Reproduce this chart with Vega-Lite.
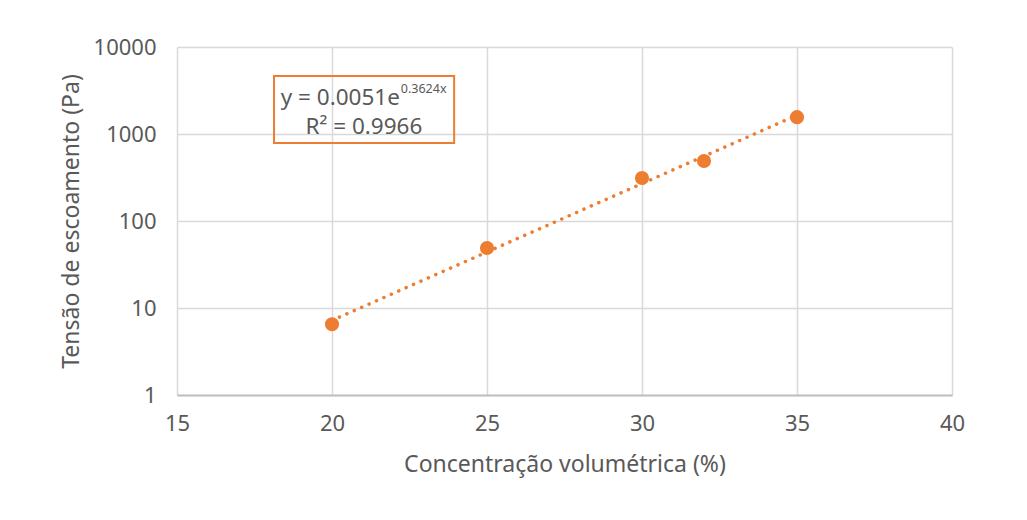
{
  "$schema": "https://vega.github.io/schema/vega-lite/v6.json",
  "autosize": {"type": "none"},
  "width": 775,
  "height": 348,
  "padding": {"left": 177, "top": 47, "right": 75, "bottom": 125},
  "background": "white",
  "config": {
    "view": {"stroke": null},
    "font": "Noto Sans",
    "axis": {
      "labelFont": "Noto Sans",
      "titleFont": "Noto Sans",
      "labelColor": "#595959",
      "titleColor": "#595959",
      "labelFontSize": 22,
      "titleFontSize": 23,
      "titleFontWeight": "normal",
      "gridColor": "#d9d9d9",
      "gridWidth": 1.5,
      "ticks": false
    }
  },
  "datasets": {
    "pts": [
      {"conc": 20, "tensao": 6.5},
      {"conc": 25, "tensao": 49},
      {"conc": 30, "tensao": 312},
      {"conc": 32, "tensao": 490},
      {"conc": 35, "tensao": 1560}
    ],
    "trend": [
      {"conc": 20, "tensao": 7.2},
      {"conc": 35, "tensao": 1645}
    ],
    "box": [{"x1": 18.13, "x2": 23.94, "y1": 4645, "y2": 788}],
    "eqmain": [{"x": 22.19, "y": 2594, "t": "y = 0.0051e"}],
    "eqr2": [{"x": 21.03, "y": 1203, "t": "R² = 0.9966"}],
    "sup": [{"x": 22.22, "y": 3250, "t": "0.3624x"}]
  },
  "layer": [
    {
      "data": {"name": "pts"},
      "mark": {"type": "point", "opacity": 0},
      "encoding": {
        "x": {
          "field": "conc", "type": "quantitative",
          "scale": {"domain": [15, 40], "nice": false, "zero": false},
          "axis": {
            "values": [15, 20, 25, 30, 35, 40],
            "title": "Concentração volumétrica (%)",
            "labelPadding": 18,
            "titlePadding": 19,
            "domainColor": "#bfbfbf",
            "domainWidth": 2,
            "labelFlush": false
          }
        },
        "y": {
          "field": "tensao", "type": "quantitative",
          "scale": {"type": "log", "domain": [1, 10000], "nice": false},
          "axis": {
            "values": [1, 10, 100, 1000, 10000],
            "format": "d",
            "title": "Tensão de escoamento (Pa)",
            "labelPadding": 21,
            "titlePadding": 10,
            "domain": false,
            "labelFlush": false
          }
        }
      }
    },
    {
      "data": {"name": "trend"},
      "mark": {"type": "line", "color": "#ED7D31", "strokeWidth": 3.5, "strokeCap": "round", "strokeDash": [0.1, 8]},
      "encoding": {
        "x": {"field": "conc", "type": "quantitative"},
        "y": {"field": "tensao", "type": "quantitative"}
      }
    },
    {
      "data": {"name": "pts"},
      "mark": {"type": "circle", "color": "#ED7D31", "opacity": 1, "size": 200},
      "encoding": {
        "x": {"field": "conc", "type": "quantitative"},
        "y": {"field": "tensao", "type": "quantitative"}
      }
    },
    {
      "data": {"name": "box"},
      "mark": {"type": "rect", "fill": null, "fillOpacity": 0, "stroke": "#ED7D31", "strokeWidth": 2},
      "encoding": {
        "x": {"field": "x1", "type": "quantitative"},
        "x2": {"field": "x2"},
        "y": {"field": "y1", "type": "quantitative"},
        "y2": {"field": "y2"}
      }
    },
    {
      "data": {"name": "eqmain"},
      "mark": {"type": "text", "font": "Noto Sans", "fontSize": 22.5, "color": "#595959", "baseline": "middle", "align": "right"},
      "encoding": {
        "x": {"field": "x", "type": "quantitative"},
        "y": {"field": "y", "type": "quantitative"},
        "text": {"field": "t"}
      }
    },
    {
      "data": {"name": "eqr2"},
      "mark": {"type": "text", "font": "Noto Sans", "fontSize": 22.5, "color": "#595959", "baseline": "middle", "align": "center"},
      "encoding": {
        "x": {"field": "x", "type": "quantitative"},
        "y": {"field": "y", "type": "quantitative"},
        "text": {"field": "t"}
      }
    },
    {
      "data": {"name": "sup"},
      "mark": {"type": "text", "font": "Noto Sans", "fontSize": 12.5, "color": "#595959", "baseline": "middle", "align": "left"},
      "encoding": {
        "x": {"field": "x", "type": "quantitative"},
        "y": {"field": "y", "type": "quantitative"},
        "text": {"field": "t"}
      }
    }
  ]
}
